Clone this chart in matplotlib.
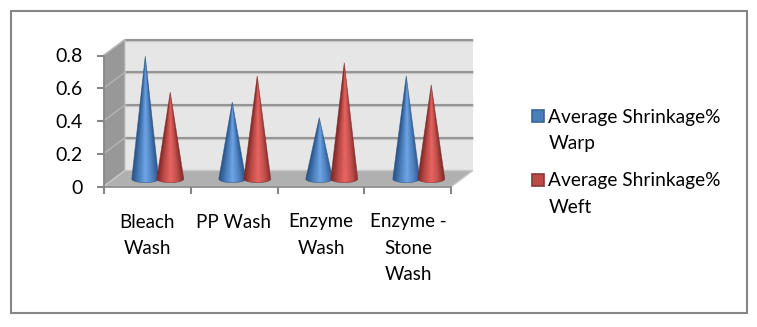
import numpy as np
import matplotlib as mpl
from matplotlib import pyplot as plt
from matplotlib.colors import LinearSegmentedColormap
from matplotlib.patches import Polygon, Rectangle

W, H = 757, 327

categories = ['Bleach\nWash', 'PP Wash', 'Enzyme\nWash', 'Enzyme -\nStone\nWash']
warp = [0.75, 0.47, 0.375, 0.63]
weft = [0.53, 0.63, 0.71, 0.575]
yticks = [0, 0.2, 0.4, 0.6, 0.8]
yticklabels = ['0', '0.2', '0.4', '0.6', '0.8']
series_names = ['Average Shrinkage%\nWarp', 'Average Shrinkage%\nWeft']

mpl.rcParams['font.family'] = ['Lato', 'DejaVu Sans']

# front plane of the fake 3D box, in pixels
left, right, y0, y_top = 103.5, 451.5, 186.5, 55.5
depth_px = (21.5, -16)

fig = plt.figure(figsize=(W/100, H/100), dpi=100)
ax = fig.add_axes([left/W, 1-y0/H, (right-left)/W, (y0-y_top)/H])
ax.set_xlim(0, 4)
ax.set_ylim(0, 0.8)
ax.axis('off')

sx = 4/(right-left)
sy = 0.8/(y0-y_top)
dx = depth_px[0]*sx
dy = -depth_px[1]*sy

# outer frame
fig.patches.append(Rectangle((11/W, 1-313/H), 736/W, 302/H, transform=fig.transFigure,
                             fc='white', ec='#868686', lw=1.5, zorder=-5))

# walls and floor
ax.add_patch(Polygon([(0, 0), (dx, dy), (4+dx, dy), (4+dx, 0.8+dy), (dx, 0.8+dy), (dx, dy)],
                     fc='#e6e6e6', ec='none', zorder=1, clip_on=False))
ax.add_patch(Polygon([(0, 0), (dx, dy), (dx, 0.8+dy), (0, 0.8)], fc='#989898', ec='#c4c4c4', lw=0.8, zorder=2, clip_on=False))
ax.add_patch(Polygon([(0, 0), (4, 0), (4+dx, dy), (dx, dy)], fc='#b0b0b0', ec='#c8c8c8', lw=1, zorder=2, clip_on=False))

for t, lab in zip(yticks, yticklabels):
    if t > 0:
        ax.plot([dx, 4+dx], [t+dy, t+dy], color='#c4c4c4', lw=2.4, zorder=1.5, clip_on=False, solid_capstyle='butt')
        ax.plot([dx, 4+dx], [t+dy, t+dy], color='#8c8c8c', lw=1.2, zorder=1.6, clip_on=False, solid_capstyle='butt')
        ax.plot([0, dx], [t, t+dy], color='#b4b4b4', lw=1, zorder=2.5, clip_on=False)
    # tick marks
    ax.plot([-7*sx, 0], [t, t], color='#868686', lw=1.5, zorder=3, clip_on=False, solid_capstyle='butt')
    ax.text(-20.5*sx, t-1.5*sy, lab, ha='right', va='center', fontsize=14, color='black')

ax.plot([0, 4], [0, 0], color='#868686', lw=1.2, zorder=3, clip_on=False)
ax.plot([0, 0], [0, 0.8], color='#868686', lw=1.2, zorder=3, clip_on=False)
for i in range(5):
    ax.plot([i, i], [0, -7*sy], color='#868686', lw=1.5, zorder=3, clip_on=False, solid_capstyle='butt')

for i, c in enumerate(categories):
    ax.text(i+0.5, -27*sy, c, ha='center', va='top', fontsize=13.5, color='black', linespacing=1.66)

# cones, colours run dark - light - dark around the surface
blue = LinearSegmentedColormap.from_list('b', ['#2a5488', '#4a7ebb', '#6fa5e6', '#4f82c0', '#2a5488'])
red = LinearSegmentedColormap.from_list('r', ['#7f2a28', '#be4b48', '#e86561', '#c2504d', '#7f2a28'])
edges = {'b': '#2a5488', 'r': '#7f2a28'}
half_w = 13.5*sx
base_y = 7.5*sy
base_ry = 3.6*sy
pair = 12.5*sx


def cone(xc, val, cmap, z):
    th = np.linspace(np.pi, 2*np.pi, 30)
    pts = [(xc, base_y+val)] + [(xc+half_w*np.cos(a), base_y+base_ry*np.sin(a)) for a in th]
    poly = Polygon(pts, transform=ax.transData, fc='none', ec=edges[cmap.name], lw=0.5, alpha=0.7, zorder=z+0.1)
    ax.add_patch(poly)
    # shade by position across the local width so the tip goes dark too
    u = np.linspace(-1, 1, 80)
    v = np.linspace(0, 1, 200)
    uu, vv = np.meshgrid(u, v)
    frac = np.clip(uu/np.maximum(1-vv, 1e-3), -1, 1)
    im = ax.imshow(0.5+0.5*frac, cmap=cmap, aspect='auto', zorder=z, origin='lower', vmin=0, vmax=1,
                   extent=(xc-half_w, xc+half_w, base_y, base_y+val), interpolation='bilinear')
    im.set_clip_path(poly)
    # lower half of the base ellipse, solid strip below the image
    strip = ax.imshow(0.5+0.5*u.reshape(1, -1), cmap=cmap, aspect='auto', zorder=z, vmin=0, vmax=1,
                      extent=(xc-half_w, xc+half_w, base_y-base_ry, base_y))
    strip.set_clip_path(poly)


for i in range(len(categories)):
    xc = i+0.5+dx/2
    cone(xc-pair, warp[i], blue, 4)
    cone(xc+pair, weft[i], red, 5)
ax.set_xlim(0, 4)
ax.set_ylim(0, 0.8)

# legend
for name, fc, ec, ytxt in zip(series_names, ['#4a7ebb', '#be4b48'], ['#3a6595', '#8a3a38'], [116, 180]):
    fig.patches.append(Rectangle((532/W, 1-(ytxt+6)/H), 12/W, 12/H, transform=fig.transFigure,
                                 fc=fc, ec=ec, lw=1.2))
    fig.text(548.5/W, 1-(ytxt-7.5)/H, name, ha='left', va='top', fontsize=13.8, color='black', linespacing=1.66)

fig.savefig('out.png', dpi=100)
